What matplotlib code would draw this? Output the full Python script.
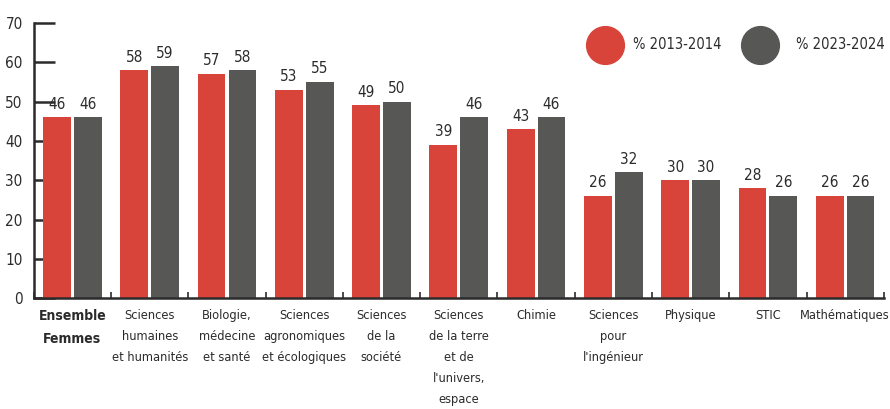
import matplotlib
matplotlib.use("Agg")
import matplotlib.pyplot as plt
import numpy as np

# Part des femmes par discipline
categories = ["Ensemble\nFemmes", "Sciences\nhumaines\net humanités", "Biologie,\nmédecine\net santé",
              "Sciences\nagronomiques\net écologiques", "Sciences\nde la\nsociété",
              "Sciences\nde la terre\net de\nl'univers,\nespace", "Chimie", "Sciences\npour\nl'ingénieur",
              "Physique", "STIC", "Mathématiques"]
pct_2013 = [46, 58, 57, 53, 49, 39, 43, 26, 30, 28, 26]
pct_2023 = [46, 59, 58, 55, 50, 46, 46, 32, 30, 26, 26]
series_names = ["% 2013-2014", "% 2023-2024"]
yticks = [0, 10, 20, 30, 40, 50, 60, 70]

red = "#d9443a"
grey = "#575756"
ink = "#2b2b2b"

plt.rcParams['font.family'] = ['DejaVu Sans']
plt.rcParams['font.stretch'] = 'condensed'

fig = plt.figure(figsize=(8.9, 4.09), dpi=100)
ax = fig.add_axes([0.038, 0.271, 0.955, 0.673])

x = np.arange(len(categories))
w = 0.36
b1 = ax.bar(x - 0.2, pct_2013, w, color=red, zorder=2)
b2 = ax.bar(x + 0.2, pct_2023, w, color=grey, zorder=2)
ax.bar_label(b1, padding=4, fontsize=11, color=ink)
ax.bar_label(b2, padding=4, fontsize=11, color=ink)

ax.set_xlim(-0.5, len(categories) - 0.5)
ax.set_ylim(0, 70)
ax.set_yticks(yticks)
ax.set_xticks(x)
ax.set_xticklabels(categories, fontsize=9.2, color=ink, linespacing=1.8)
ax.get_xticklabels()[0].set_fontweight("bold")
ax.get_xticklabels()[0].set_fontsize(10)
ax.set_xticks(np.arange(-0.5, len(categories)), minor=True)

ax.tick_params(axis="y", direction="in", length=15, width=1.8, color=ink,
               labelsize=11, labelcolor=ink, pad=8)
ax.tick_params(axis="x", which="major", length=0, pad=8)
ax.tick_params(axis="x", which="minor", direction="in", length=4, width=1.2, color=ink)
ax.set_axisbelow(True)

for s in ["top", "right"]:
    ax.spines[s].set_visible(False)
for s in ["left", "bottom"]:
    ax.spines[s].set_color(ink)
    ax.spines[s].set_linewidth(1.8)

# legende
for xc, xt, col, name in [(0.680, 0.711, red, series_names[0]), (0.854, 0.894, grey, series_names[1])]:
    ax.scatter([xc], [0.890], s=740, color=col, transform=fig.transFigure, clip_on=False, zorder=5)
    fig.text(xt, 0.890, name, fontsize=10.5, color=ink, va="center", ha="left")

fig.savefig("out.png", dpi=100)
